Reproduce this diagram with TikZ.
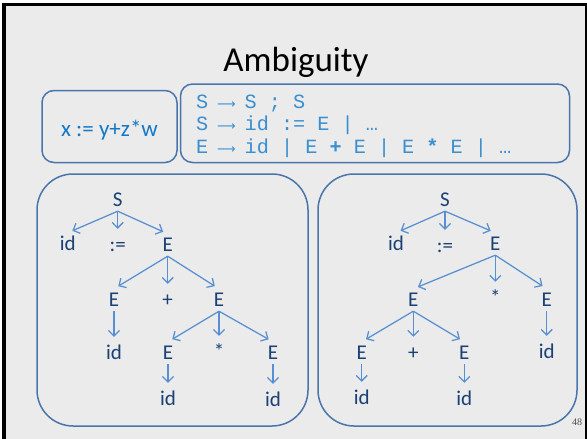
\documentclass[tikz,border=0pt]{standalone}
\usepackage{fontspec}
\setmainfont{Carlito}
\newfontfamily\gramfont{Liberation Mono}
\newfontfamily\arrowfont{DejaVu Sans}
\newfontfamily\numfont{Liberation Serif}
\usetikzlibrary{arrows.meta}

\definecolor{slidebg}{HTML}{EBEBEB}
\definecolor{frameblue}{RGB}{74,117,170}
\definecolor{arrowblue}{RGB}{88,143,210}
\definecolor{treeblue}{RGB}{26,64,116}
\definecolor{exprblue}{RGB}{20,120,200}
\definecolor{gramblue}{RGB}{58,143,208}

% long grammar arrow, centred in one character cell of the mono font
\newcommand{\prodarrow}{\makebox[12.1pt][c]{\arrowfont\fontsize{13}{13}\selectfont ⟶}}

\tikzset{
  panel/.style={draw=frameblue, line width=1.5pt},
  tn/.style={font=\fontsize{21}{21}\selectfont, text=treeblue, inner xsep=0pt,
             inner ysep=5pt, text height=12pt, text depth=0pt},
  ar/.style={draw=arrowblue, line width=1.25pt,
             -{Straight Barb[length=5.5pt,width=11pt,line width=1.25pt]},
             shorten >=5pt},
  gline/.style={font=\gramfont\fontsize{20.2}{22}\selectfont, text=gramblue,
                anchor=base west, inner sep=0pt},
}

\begin{document}
\begin{tikzpicture}[x=1pt,y=-1pt]
  % slide background with its frame
  \useasboundingbox (0,0) rectangle (587,439);
  \fill[white] (0,0) rectangle (587,439);
  \fill[black] (1.5,2.5) rectangle (587,439);
  \fill[slidebg] (5.5,6) rectangle (585,439);

  % title
  \node[font=\fontsize{35}{35}\selectfont, anchor=base, inner sep=0pt] (title) at (296,71.5) {Ambiguity};

  % expression and grammar panels
  \draw[panel, rounded corners=12pt] (42,90.5) rectangle (177,162.5);
  \node[font=\fontsize{23}{23}\selectfont, text=exprblue, anchor=base, inner sep=0pt] (expr) at (109.5,136.5) {x := y+z*w};

  \draw[panel, rounded corners=12pt] (180.5,84) rectangle (569.5,162.5);
  \node[gline] (g1) at (196,108.5) {S \prodarrow{} S ; S};
  \node[gline] (g2) at (196,130.5) {S \prodarrow{} id := E | …};
  \node[gline] (g3) at (196,153) {E \prodarrow{} id | E \textbf{+} E | E \textbf{*} E | …};

  % parse tree panels
  \draw[panel, rounded corners=36pt] (37,174) rectangle (308,426);
  \draw[panel, rounded corners=36pt] (318,174) rectangle (577,426);

  % left tree: id := E + (E * E)
  \node[tn] (La)  at (117.7,200) {S};
  \node[tn] (Lb)  at (67.7,244)  {id};
  \node[tn] (Lc)  at (117.7,245) {:=};
  \node[tn] (Ld)  at (167.7,245) {E};
  \node[tn] (Le)  at (114,300)   {E};
  \node[tn] (Lf)  at (167.7,300) {+};
  \node[tn] (Lg)  at (219,300)   {E};
  \node[tn] (Lh)  at (114,353)   {id};
  \node[tn] (Li)  at (168,353)   {E};
  \node[tn] (Lj)  at (219,352)   {*};
  \node[tn] (Lk)  at (273,353)   {E};
  \node[tn] (Ll)  at (168,399)   {id};
  \node[tn] (Lm)  at (273,400)   {id};

  \draw[ar] (La.south) -- (Lb.north);
  \draw[ar] (La.south) -- (Lc.north);
  \draw[ar] (La.south) -- (Ld.north);
  \draw[ar] (Ld.south) -- (Le.north);
  \draw[ar] (Ld.south) -- (Lf.north);
  \draw[ar] (Ld.south) -- (Lg.north);
  \draw[ar] (Le.south) -- (Lh.north);
  \draw[ar] (Lg.south) -- (Li.north);
  \draw[ar] (Lg.south) -- (Lj.north);
  \draw[ar] (Lg.south) -- (Lk.north);
  \draw[ar] (Li.south) -- (Ll.north);
  \draw[ar] (Lk.south) -- (Lm.north);

  % right tree: id := (E + E) * E
  \node[tn] (Ra)  at (445,200)   {S};
  \node[tn] (Rb)  at (396,244)   {id};
  \node[tn] (Rc)  at (445,246)   {:=};
  \node[tn] (Rd)  at (495.3,244) {E};
  \node[tn] (Re)  at (413.3,300) {E};
  \node[tn] (Rf)  at (495.3,298) {*};
  \node[tn] (Rg)  at (546.7,300) {E};
  \node[tn] (Rh)  at (361.7,353) {E};
  \node[tn] (Ri)  at (413.3,353) {+};
  \node[tn] (Rj)  at (464.3,353) {E};
  \node[tn] (Rk)  at (546.7,352) {id};
  \node[tn] (Rl)  at (361.7,398) {id};
  \node[tn] (Rm)  at (464.3,399) {id};

  \draw[ar] (Ra.south) -- (Rb.north);
  \draw[ar] (Ra.south) -- (Rc.north);
  \draw[ar] (Ra.south) -- (Rd.north);
  \draw[ar] (Rd.south) -- (Re.north);
  \draw[ar] (Rd.south) -- (Rf.north);
  \draw[ar] (Rd.south) -- (Rg.north);
  \draw[ar] (Re.south) -- (Rh.north);
  \draw[ar] (Re.south) -- (Ri.north);
  \draw[ar] (Re.south) -- (Rj.north);
  \draw[ar] (Rg.south) -- (Rk.north);
  \draw[ar] (Rh.south) -- (Rl.north);
  \draw[ar] (Rj.south) -- (Rm.north);

  % slide number
  \node[font=\numfont\fontsize{10}{10}\selectfont, text=black!70, inner sep=0pt] (pagenum) at (577,422) {48};
\end{tikzpicture}
\end{document}
